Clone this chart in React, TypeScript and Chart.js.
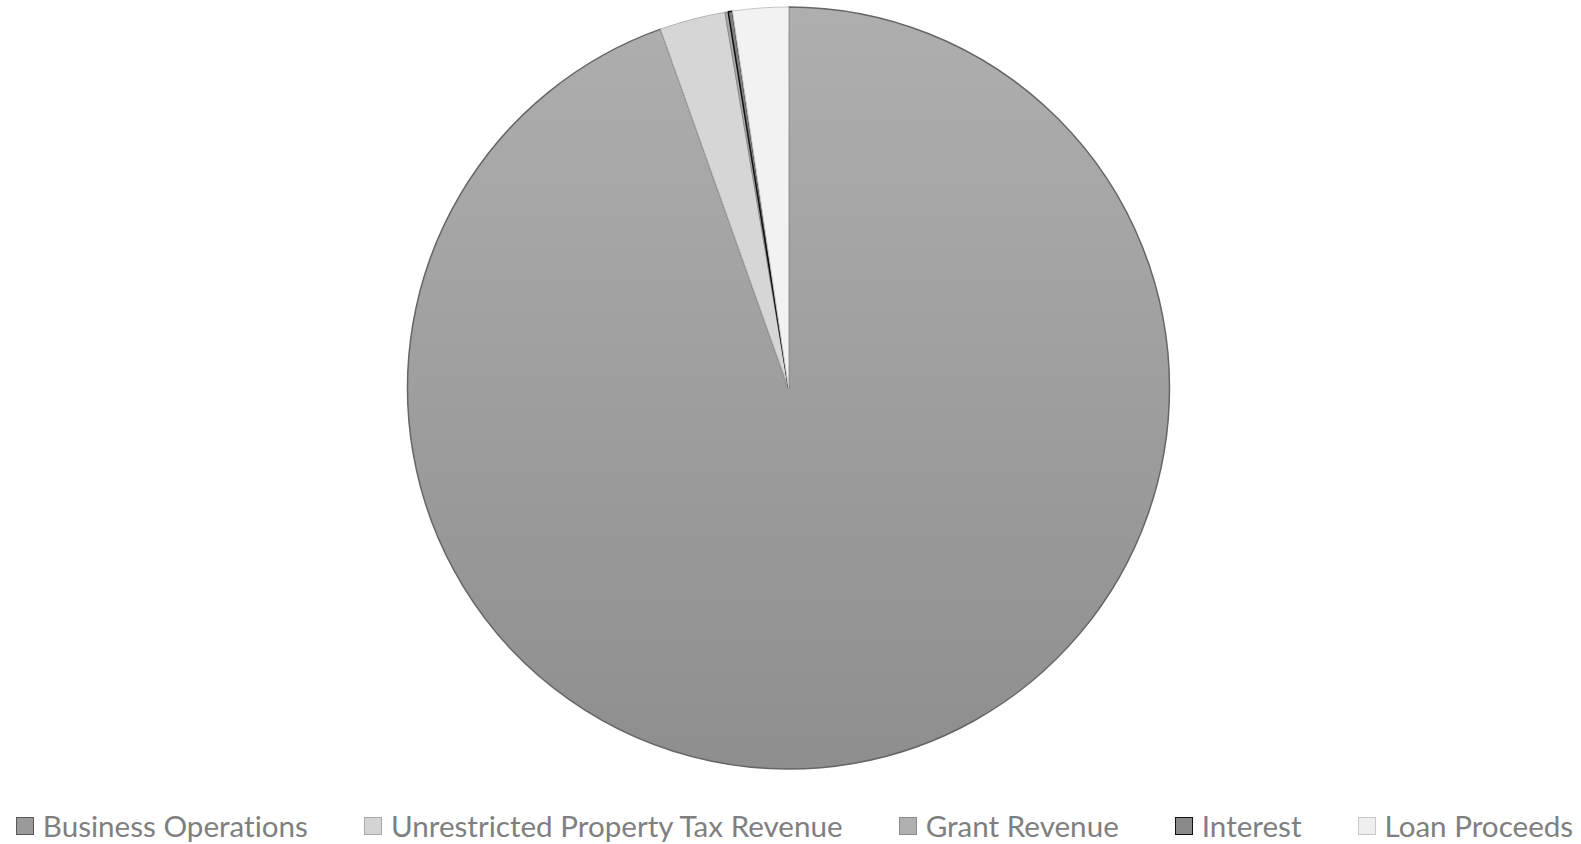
import React, { useEffect, useRef } from "react";
import { Chart, registerables } from "chart.js";

Chart.register(...registerables);

const categories = [
  "Business Operations",
  "Unrestricted Property Tax Revenue",
  "Grant Revenue",
  "Interest",
  "Loan Proceeds",
];
const shares = [94.55, 2.78, 0.14, 0.18, 2.35];
const sliceColors = ["#a0a0a0", "#d6d6d6", "#a9a9a9", "#7f7f7f", "#f2f2f2"];
const sliceBorders = ["#666666", "#b3b3b3", "#8a8a8a", "#111111", "#c6c6c6"];
const legendFills = ["#9a9a9a", "#d4d4d4", "#b0b0b0", "#8a8a8a", "#efefef"];
const legendBorders = ["#5a5a5a", "#a8a8a8", "#8c8c8c", "#111111", "#c8c8c8"];

export default function App() {
  const ref = useRef<HTMLCanvasElement | null>(null);

  useEffect(() => {
    if (!ref.current) return;
    const chart = new Chart(ref.current, {
      type: "pie",
      data: {
        labels: categories,
        datasets: [
          {
            data: shares,
            backgroundColor: (c: any) => {
              const i = c.dataIndex;
              if (i !== 0) return sliceColors[i];
              const area = c.chart.chartArea;
              if (!area) return sliceColors[0];
              const g = c.chart.ctx.createLinearGradient(0, area.top, 0, area.bottom);
              g.addColorStop(0, "#afafaf");
              g.addColorStop(1, "#8e8e8e");
              return g;
            },
            borderColor: sliceBorders,
            borderWidth: [1.5, 1, 1, 1.5, 1],
            radius: 381,
          },
        ],
      },
      options: {
        responsive: false,
        animation: false,
        layout: { padding: { left: 0, right: 4, top: 0, bottom: 0 } },
        plugins: {
          legend: { display: false },
          tooltip: { enabled: false },
        },
      },
    });
    return () => chart.destroy();
  }, []);

  return (
    <div
      style={{
        position: "absolute",
        left: 0,
        top: 0,
        width: 1581,
        height: 844,
        background: "#ffffff",
        overflow: "hidden",
      }}
    >
      <canvas ref={ref} width={1581} height={776} style={{ display: "block", width: 1581, height: 776 }} />
      <div
        style={{
          position: "absolute",
          left: 4,
          top: 809,
          width: 1581,
          display: "flex",
          justifyContent: "center",
          alignItems: "center",
          gap: 56,
          fontFamily: "Lato, 'Noto Sans', sans-serif",
          fontSize: 29.6,
          fontVariantLigatures: "none",
          color: "#7f7f7f",
          whiteSpace: "nowrap",
          lineHeight: "34px",
        }}
      >
        {categories.map((c, i) => (
          <div key={c} style={{ display: "flex", alignItems: "center" }}>
            <span
              style={{
                display: "inline-block",
                width: 16,
                height: 16,
                background: legendFills[i],
                border: `1.5px solid ${legendBorders[i]}`,
                marginRight: 9,
              }}
            />
            <span>{c}</span>
          </div>
        ))}
      </div>
    </div>
  );
}
